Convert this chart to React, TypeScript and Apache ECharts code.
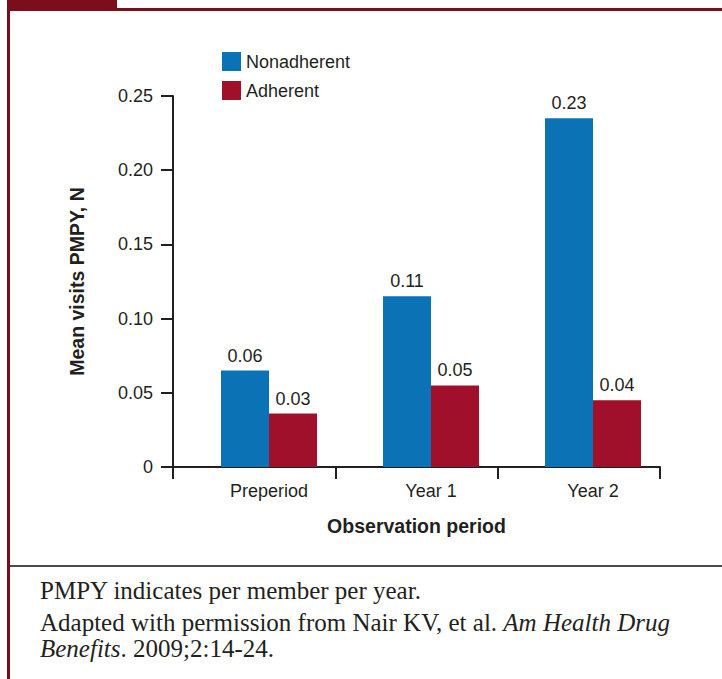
import React, { useEffect, useRef } from "react";
import * as echarts from "echarts";

const categories = ["Preperiod", "Year 1", "Year 2"];
const nonadherentValues = [0.065, 0.115, 0.235];
const adherentValues = [0.036, 0.055, 0.045];
const nonadherentLabels = ["0.06", "0.11", "0.23"];
const adherentLabels = ["0.03", "0.05", "0.04"];
const seriesNames = ["Nonadherent", "Adherent"];
const yTicks = { min: 0, max: 0.25, interval: 0.05 };
const captionLines = [
  "PMPY indicates per member per year.",
  "Adapted with permission from Nair KV, et al. {i|Am Health Drug}",
  "{i|Benefits}. 2009;2:14-24.",
];

const SANS = "'Liberation Sans', Arial, sans-serif";
const SERIF = "'Liberation Serif', 'Times New Roman', serif";
const INK = "#231f20";
const BLUE = "#0b72b5";
const RED = "#a0102a";
const FRAME = "#7b0e1b";

export default function App() {
  const ref = useRef<HTMLDivElement>(null);
  useEffect(() => {
    const chart = echarts.init(ref.current!, null, { renderer: "svg" });
    const fmt = (v: number) => (v === 0 ? "0" : v.toFixed(2));
    const option: any = {
      animation: false,
      backgroundColor: "#ffffff",
      textStyle: { fontFamily: SANS, color: INK },
      grid: [
        { left: 188, width: 486, top: 96, height: 371 },
        { left: 173, width: 487, top: 96, height: 371 },
      ],
      legend: {
        orient: "vertical",
        left: 217,
        top: 47,
        itemWidth: 19,
        itemHeight: 19,
        itemGap: 10,
        icon: "rect",
        data: seriesNames,
        textStyle: { fontFamily: SANS, fontSize: 18, color: INK, padding: [0, 0, 0, 0] },
      },
      xAxis: [
        {
          type: "category",
          gridIndex: 0,
          data: categories,
          axisLine: { show: false },
          axisTick: { show: false },
          axisLabel: { fontFamily: SANS, fontSize: 18, color: INK, margin: 15 },
        },
        {
          type: "category",
          gridIndex: 1,
          data: categories,
          axisLine: { show: true, lineStyle: { color: INK, width: 2 } },
          axisTick: { show: true, length: 12, lineStyle: { color: INK, width: 2 } },
          axisLabel: { show: false },
          name: "Observation period",
          nameLocation: "middle",
          nameGap: 49,
          nameTextStyle: { fontFamily: SANS, fontSize: 19.5, fontWeight: "bold", color: INK },
        },
      ],
      yAxis: [
        {
          type: "value",
          gridIndex: 0,
          min: yTicks.min,
          max: yTicks.max,
          interval: yTicks.interval,
          show: false,
          splitLine: { show: false },
        },
        {
          type: "value",
          gridIndex: 1,
          min: yTicks.min,
          max: yTicks.max,
          interval: yTicks.interval,
          axisLine: { show: true, lineStyle: { color: INK, width: 2 } },
          axisTick: { show: true, length: 12, lineStyle: { color: INK, width: 2 } },
          splitLine: { show: false },
          axisLabel: { formatter: fmt, fontFamily: SANS, fontSize: 18, color: INK, margin: 20 },
          name: "Mean visits PMPY, N",
          nameLocation: "middle",
          nameGap: 86,
          nameTextStyle: { fontFamily: SANS, fontSize: 19.5, fontWeight: "bold", color: INK },
        },
      ],
      series: [
        {
          name: seriesNames[0],
          type: "bar",
          xAxisIndex: 0,
          yAxisIndex: 0,
          data: nonadherentValues,
          barWidth: 48,
          barGap: "0%",
          itemStyle: { color: BLUE },
          label: {
            show: true,
            position: "top",
            distance: 6,
            fontFamily: SANS,
            fontSize: 18,
            color: INK,
            formatter: (p: any) => nonadherentLabels[p.dataIndex],
          },
        },
        {
          name: seriesNames[1],
          type: "bar",
          xAxisIndex: 0,
          yAxisIndex: 0,
          data: adherentValues,
          barWidth: 48,
          barGap: "0%",
          itemStyle: { color: RED },
          label: {
            show: true,
            position: "top",
            distance: 6,
            fontFamily: SANS,
            fontSize: 18,
            color: INK,
            formatter: (p: any) => adherentLabels[p.dataIndex],
          },
        },
      ],
      graphic: [
        { type: "rect", shape: { x: 7, y: 0, width: 3, height: 679 }, style: { fill: FRAME } },
        { type: "rect", shape: { x: 7, y: 8, width: 715, height: 3 }, style: { fill: FRAME } },
        { type: "rect", shape: { x: 7, y: 0, width: 110, height: 11 }, style: { fill: FRAME } },
        { type: "rect", shape: { x: 10, y: 565, width: 712, height: 2 }, style: { fill: "#4a4a4a" } },
        ...captionLines.map((t, i) => ({
          type: "text",
          x: 40,
          y: [590, 622, 648][i],
          style: {
            text: t,
            fontFamily: SERIF,
            fontSize: 25,
            fill: INK,
            verticalAlign: "middle",
            align: "left",
            rich: { i: { fontFamily: SERIF, fontSize: 25, fontStyle: "italic", fill: INK } },
          },
        })),
      ],
    };
    chart.setOption(option);
    return () => chart.dispose();
  }, []);
  return (
    <div
      ref={ref}
      style={{ position: "absolute", left: 0, top: 0, width: 722, height: 679 }}
    />
  );
}
